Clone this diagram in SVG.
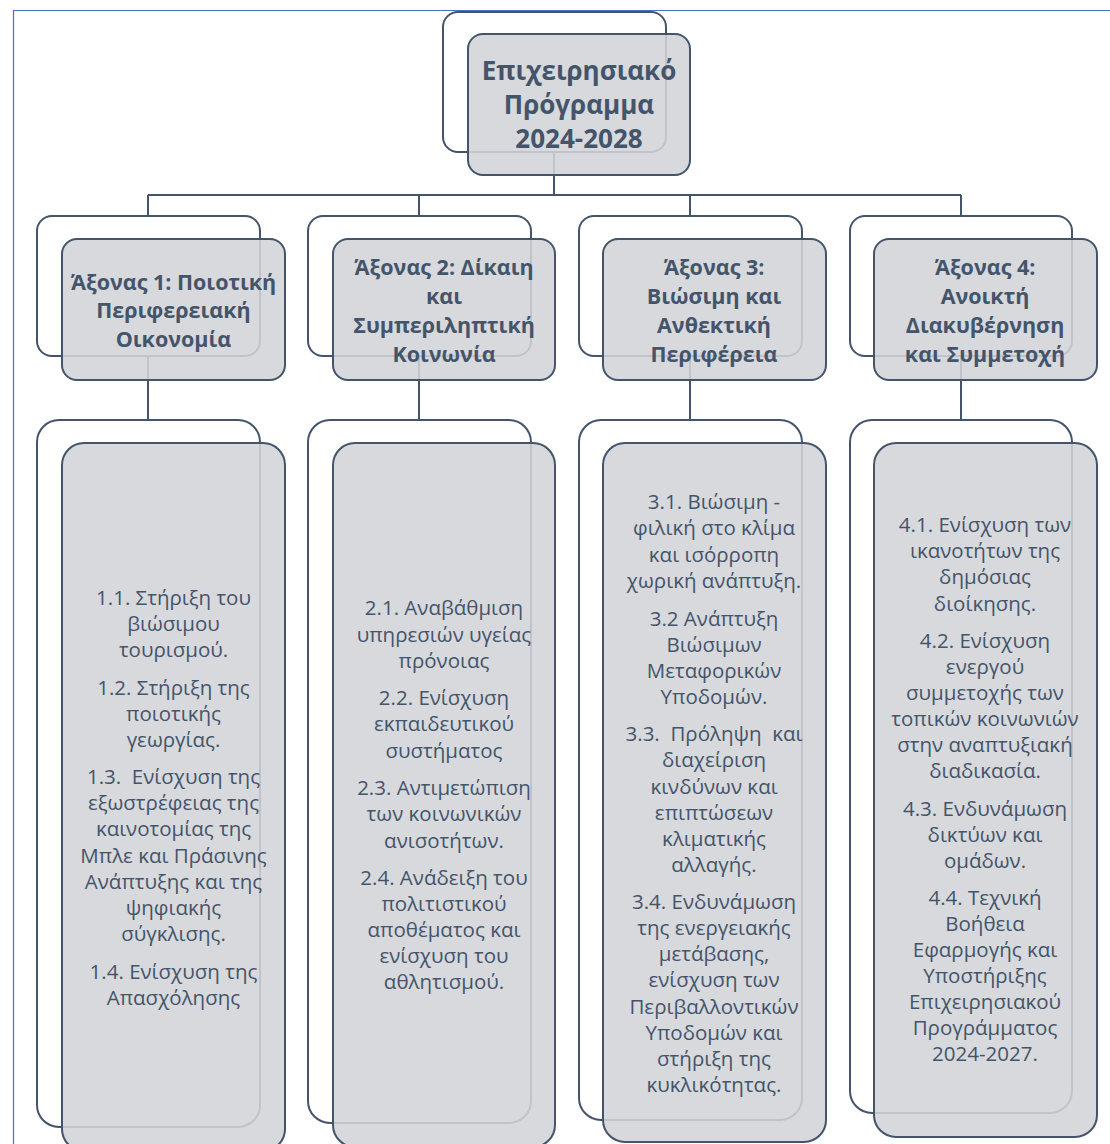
<svg xmlns="http://www.w3.org/2000/svg" width="1110" height="1144" viewBox="0 0 1110 1144">
<style>
.back{fill:none;stroke:#44546a;stroke-width:2}
.front{fill:#d2d4d7;fill-opacity:0.88;stroke:#44546a;stroke-width:2}
.conn{fill:none;stroke:#44546a;stroke-width:2}
.frame{fill:none;stroke:#4472c4;stroke-width:1.2}
text{font-family:"Open Sans","Noto Sans","DejaVu Sans",sans-serif;fill:#44546a;text-anchor:middle;dominant-baseline:central;white-space:pre}
.t1{font-size:26px;font-weight:bold}
.t2{font-size:21.5px;font-weight:bold}
.b{font-size:20.5px}
</style>
<rect width="1110" height="1144" fill="#ffffff"/>
<path class="frame" d="M13.5,1144 V10.5 H1110"/>
<g id="connectors">
<path class="conn" d="M554,152 V195"/>
<path class="conn" d="M148,195 H961"/>
<path class="conn" d="M148,195 V216 M419,195 V216 M690,195 V216 M961,195 V216"/>
<path class="conn" d="M148,356 V420 M419,356 V420 M690,356 V420 M961,356 V420"/>
</g>
<g id="node-root">
<rect class="back" x="443" y="12" width="223" height="140" rx="15"/>
<rect class="front" x="468" y="34" width="222" height="141" rx="15"/>
<text class="t1" x="579" y="70">Επιχειρησιακό</text>
<text class="t1" x="579" y="104">Πρόγραμμα</text>
<text class="t1" x="579" y="138">2024-2028</text>
</g>
<g id="node-axis1">
<rect class="back" x="37" y="216" width="223" height="140" rx="15"/>
<rect class="front" x="62" y="239" width="223" height="141" rx="15"/>
<text class="t2" x="173.5" y="281">Άξονας 1: Ποιοτική</text>
<text class="t2" x="173.5" y="309">Περιφερειακή</text>
<text class="t2" x="173.5" y="338">Οικονομία</text>
</g>
<g id="node-axis2">
<rect class="back" x="308" y="216" width="223" height="140" rx="15"/>
<rect class="front" x="333" y="239" width="222" height="141" rx="15"/>
<text class="t2" x="444" y="266">Άξονας 2: Δίκαιη</text>
<text class="t2" x="444" y="295">και</text>
<text class="t2" x="444" y="324">Συμπεριληπτική</text>
<text class="t2" x="444" y="353">Κοινωνία</text>
</g>
<g id="node-axis3">
<rect class="back" x="579" y="216" width="223" height="140" rx="15"/>
<rect class="front" x="603" y="239" width="223" height="141" rx="15"/>
<text class="t2" x="714" y="266">Άξονας 3:</text>
<text class="t2" x="714" y="295">Βιώσιμη και</text>
<text class="t2" x="714" y="324">Ανθεκτική</text>
<text class="t2" x="714" y="353">Περιφέρεια</text>
</g>
<g id="node-axis4">
<rect class="back" x="850" y="216" width="222" height="140" rx="15"/>
<rect class="front" x="874" y="239" width="223" height="141" rx="15"/>
<text class="t2" x="985" y="266">Άξονας 4:</text>
<text class="t2" x="985" y="295">Ανοικτή</text>
<text class="t2" x="985" y="324">Διακυβέρνηση</text>
<text class="t2" x="985" y="353">και Συμμετοχή</text>
</g>
<g id="node-list1">
<rect class="back" x="37" y="420" width="223" height="707" rx="22"/>
<rect class="front" x="62" y="443" width="223" height="708" rx="22"/>
<text class="b" x="173.5" y="597">1.1. Στήριξη του</text>
<text class="b" x="173.5" y="623">βιώσιμου</text>
<text class="b" x="173.5" y="649">τουρισμού.</text>
<text class="b" x="173.5" y="687">1.2. Στήριξη της</text>
<text class="b" x="173.5" y="713">ποιοτικής</text>
<text class="b" x="173.5" y="739">γεωργίας.</text>
<text class="b" x="173.5" y="776">1.3.  Ενίσχυση της</text>
<text class="b" x="173.5" y="802">εξωστρέφειας της</text>
<text class="b" x="173.5" y="828">καινοτομίας της</text>
<text class="b" x="173.5" y="855">Μπλε και Πράσινης</text>
<text class="b" x="173.5" y="881">Ανάπτυξης και της</text>
<text class="b" x="173.5" y="907">ψηφιακής</text>
<text class="b" x="173.5" y="933">σύγκλισης.</text>
<text class="b" x="173.5" y="971">1.4. Ενίσχυση της</text>
<text class="b" x="173.5" y="997">Απασχόλησης</text>
</g>
<g id="node-list2">
<rect class="back" x="308" y="420" width="223" height="703" rx="22"/>
<rect class="front" x="333" y="443" width="222" height="704" rx="22"/>
<text class="b" x="444" y="607">2.1. Αναβάθμιση</text>
<text class="b" x="444" y="634">υπηρεσιών υγείας</text>
<text class="b" x="444" y="660">πρόνοιας</text>
<text class="b" x="444" y="697">2.2. Ενίσχυση</text>
<text class="b" x="444" y="723">εκπαιδευτικού</text>
<text class="b" x="444" y="750">συστήματος</text>
<text class="b" x="444" y="787">2.3. Αντιμετώπιση</text>
<text class="b" x="444" y="813">των κοινωνικών</text>
<text class="b" x="444" y="840">ανισοτήτων.</text>
<text class="b" x="444" y="877">2.4. Ανάδειξη του</text>
<text class="b" x="444" y="903">πολιτιστικού</text>
<text class="b" x="444" y="929">αποθέματος και</text>
<text class="b" x="444" y="955">ενίσχυση του</text>
<text class="b" x="444" y="981">αθλητισμού.</text>
</g>
<g id="node-list3">
<rect class="back" x="579" y="420" width="223" height="700" rx="22"/>
<rect class="front" x="603" y="443" width="223" height="699" rx="22"/>
<text class="b" x="714" y="501">3.1. Βιώσιμη -</text>
<text class="b" x="714" y="527">φιλική στο κλίμα</text>
<text class="b" x="714" y="554">και ισόρροπη</text>
<text class="b" x="714" y="580">χωρική ανάπτυξη.</text>
<text class="b" x="714" y="618">3.2 Ανάπτυξη</text>
<text class="b" x="714" y="644">Βιώσιμων</text>
<text class="b" x="714" y="670">Μεταφορικών</text>
<text class="b" x="714" y="696">Υποδομών.</text>
<text class="b" x="714" y="733">3.3.  Πρόληψη  και</text>
<text class="b" x="714" y="759">διαχείριση</text>
<text class="b" x="714" y="786">κινδύνων και</text>
<text class="b" x="714" y="812">επιπτώσεων</text>
<text class="b" x="714" y="838">κλιματικής</text>
<text class="b" x="714" y="864">αλλαγής.</text>
<text class="b" x="714" y="901">3.4. Ενδυνάμωση</text>
<text class="b" x="714" y="927">της ενεργειακής</text>
<text class="b" x="714" y="953">μετάβασης,</text>
<text class="b" x="714" y="979">ενίσχυση των</text>
<text class="b" x="714" y="1006">Περιβαλλοντικών</text>
<text class="b" x="714" y="1032">Υποδομών και</text>
<text class="b" x="714" y="1058">στήριξη της</text>
<text class="b" x="714" y="1084">κυκλικότητας.</text>
</g>
<g id="node-list4">
<rect class="back" x="850" y="420" width="222" height="693" rx="22"/>
<rect class="front" x="874" y="443" width="223" height="694" rx="22"/>
<text class="b" x="985" y="524">4.1. Ενίσχυση των</text>
<text class="b" x="985" y="550">ικανοτήτων της</text>
<text class="b" x="985" y="576">δημόσιας</text>
<text class="b" x="985" y="603">διοίκησης.</text>
<text class="b" x="985" y="640">4.2. Ενίσχυση</text>
<text class="b" x="985" y="666">ενεργού</text>
<text class="b" x="985" y="692">συμμετοχής των</text>
<text class="b" x="985" y="718">τοπικών κοινωνιών</text>
<text class="b" x="985" y="744">στην αναπτυξιακή</text>
<text class="b" x="985" y="770">διαδικασία.</text>
<text class="b" x="985" y="808">4.3. Ενδυνάμωση</text>
<text class="b" x="985" y="834">δικτύων και</text>
<text class="b" x="985" y="860">ομάδων.</text>
<text class="b" x="985" y="897">4.4. Τεχνική</text>
<text class="b" x="985" y="923">Βοήθεια</text>
<text class="b" x="985" y="949">Εφαρμογής και</text>
<text class="b" x="985" y="975">Υποστήριξης</text>
<text class="b" x="985" y="1001">Επιχειρησιακού</text>
<text class="b" x="985" y="1027">Προγράμματος</text>
<text class="b" x="985" y="1053">2024-2027.</text>
</g>
</svg>
